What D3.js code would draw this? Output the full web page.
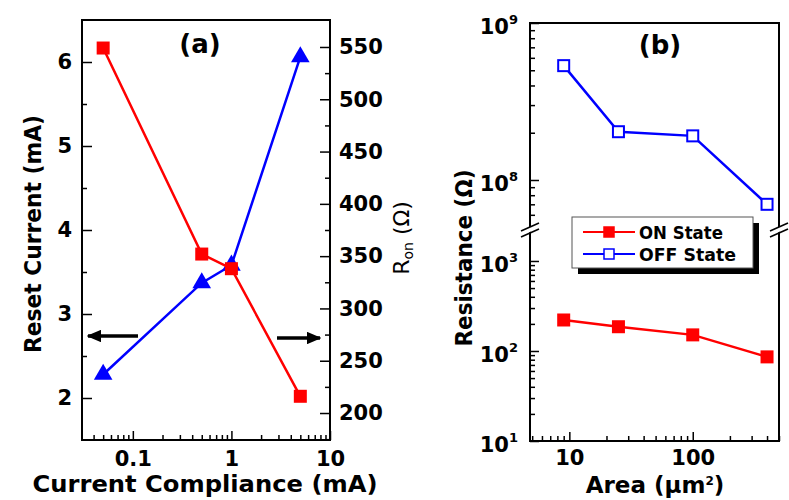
<!DOCTYPE html>
<html>
<head>
<meta charset="utf-8">
<script src="https://cdn.jsdelivr.net/npm/d3@7"></script>
<style>
  body { margin: 0; background: #fff; }
  text { font-family: "DejaVu Sans", "Liberation Sans", Arial, sans-serif; }
</style>
</head>
<body>
<div id="chart"></div>
<script>
// panel (a)
const compliance = [0.05, 0.5, 1, 5];
const resetCurrent = [2.28, 3.37, 3.58, 6.06];
const ronValues = [549, 352, 338, 216];
const leftTicks = [2, 3, 4, 5, 6];
const rightTicks = [200, 250, 300, 350, 400, 450, 500, 550];
const complianceTicks = [0.1, 1, 10];

// panel (b)
const areas = [9, 25, 100, 400];
const onState = [221, 186, 151, 86];
const offState = [5.35e8, 2.03e8, 1.91e8, 7.0e7];
const areaTicks = [10, 100];
const hiTicks = [1e8, 1e9];
const loTicks = [1e1, 1e2, 1e3];

const width = 789, height = 500;
const svg = d3.select('#chart').append('svg')
  .attr('width', width).attr('height', height);

const red = '#ff0000', blue = '#0000ff';

// minor ticks for a log scale between lo and hi
function logMinors(lo, hi) {
  const out = [];
  for (let e = Math.floor(Math.log10(lo)); e <= Math.ceil(Math.log10(hi)); e++) {
    for (let m = 2; m <= 9; m++) {
      const v = m * Math.pow(10, e);
      if (v >= lo && v <= hi) out.push(v);
    }
  }
  return out;
}

function styleAxis(g) {
  g.select('.domain').remove();
  g.selectAll('line').attr('stroke', '#000').attr('stroke-width', 1.5);
  g.selectAll('text').attr('font-size', 21).attr('font-weight', 'bold').attr('fill', '#000');
}

// ---------- panel (a) ----------
const a = {left: 82, right: 330, top: 20, bottom: 440};

const xA = d3.scaleLog().domain([0.0305, 10]).range([a.left, a.right]);
const yI = d3.scaleLinear().domain([1.5, 6.5]).range([a.bottom, a.top]);
const yR = d3.scaleLinear().domain([174.2, 575.8]).range([a.bottom, a.top]);

// bottom axis
svg.append('g').attr('transform', `translate(0,${a.bottom})`)
  .call(d3.axisBottom(xA).tickValues(complianceTicks).tickSize(-9).tickPadding(11)
    .tickFormat(d3.format('~g')))
  .call(styleAxis);
svg.append('g').attr('transform', `translate(0,${a.bottom})`)
  .call(d3.axisBottom(xA).tickValues(logMinors(0.0305, 10)).tickSize(-5).tickFormat(''))
  .call(styleAxis);

// left axis
svg.append('g').attr('transform', `translate(${a.left},0)`)
  .call(d3.axisLeft(yI).tickValues(leftTicks).tickSize(-10).tickPadding(10).tickFormat(d3.format('d')))
  .call(styleAxis);
svg.append('g').attr('transform', `translate(${a.left},0)`)
  .call(d3.axisLeft(yI).tickValues(leftTicks.map(d => d + 0.5).filter(d => d < 6.5))
    .tickSize(-5).tickFormat(''))
  .call(styleAxis);

// right axis
svg.append('g').attr('transform', `translate(${a.right},0)`)
  .call(d3.axisRight(yR).tickValues(rightTicks).tickSize(-10).tickPadding(9).tickFormat(d3.format('d')))
  .call(styleAxis);
svg.append('g').attr('transform', `translate(${a.right},0)`)
  .call(d3.axisRight(yR).tickValues(rightTicks.map(d => d + 25).concat([175]).filter(d => d < 575))
    .tickSize(-5).tickFormat(''))
  .call(styleAxis);

svg.append('rect')
  .attr('x', a.left).attr('y', a.top)
  .attr('width', a.right - a.left).attr('height', a.bottom - a.top)
  .attr('fill', 'none').attr('stroke', '#000').attr('stroke-width', 2);

const lineI = d3.line().x((d, i) => xA(compliance[i])).y(d => yI(d));
const lineR = d3.line().x((d, i) => xA(compliance[i])).y(d => yR(d));

svg.append('path').datum(resetCurrent).attr('d', lineI)
  .attr('fill', 'none').attr('stroke', blue).attr('stroke-width', 2.5);
svg.append('g').selectAll('path').data(resetCurrent).join('path')
  .attr('transform', (d, i) => `translate(${xA(compliance[i])},${yI(d)})`)
  .attr('d', d3.symbol(d3.symbolTriangle, 150))
  .attr('fill', blue);

svg.append('path').datum(ronValues).attr('d', lineR)
  .attr('fill', 'none').attr('stroke', red).attr('stroke-width', 2.5);
svg.append('g').selectAll('rect').data(ronValues).join('rect')
  .attr('x', (d, i) => xA(compliance[i]) - 6.5).attr('y', d => yR(d) - 6.5)
  .attr('width', 13).attr('height', 13)
  .attr('fill', red);

// arrows
const defs = svg.append('defs');
defs.append('marker').attr('id', 'arrowhead')
  .attr('viewBox', '0 0 10 10').attr('refX', 9).attr('refY', 5)
  .attr('markerWidth', 4.2).attr('markerHeight', 3.6).attr('orient', 'auto')
  .attr('preserveAspectRatio', 'none')
  .append('path').attr('d', 'M0,0L10,5L0,10Z').attr('fill', '#000');

svg.append('line').attr('x1', 138).attr('y1', 336).attr('x2', 88).attr('y2', 336)
  .attr('stroke', '#000').attr('stroke-width', 3.5).attr('marker-end', 'url(#arrowhead)');
svg.append('line').attr('x1', 277).attr('y1', 338).attr('x2', 320).attr('y2', 338)
  .attr('stroke', '#000').attr('stroke-width', 3.5).attr('marker-end', 'url(#arrowhead)');

svg.append('text').attr('x', 200).attr('y', 53).attr('text-anchor', 'middle')
  .attr('font-size', 26).attr('font-weight', 'bold').text('(a)');

svg.append('text').attr('transform', 'translate(41,234) rotate(-90)')
  .attr('text-anchor', 'middle').attr('font-size', 23).attr('font-weight', 'bold')
  .attr('textLength', 238).attr('lengthAdjust', 'spacingAndGlyphs')
  .text('Reset Current (mA)');

const ronLabel = svg.append('text').attr('transform', 'translate(409,238) rotate(-90)')
  .attr('text-anchor', 'middle').attr('font-size', 22);
ronLabel.append('tspan').text('R');
ronLabel.append('tspan').attr('font-size', 14).attr('dy', 4).text('on');
ronLabel.append('tspan').attr('dy', -4).text(' (\u03A9)');

svg.append('text').attr('x', 205).attr('y', 492).attr('text-anchor', 'middle')
  .attr('font-size', 23).attr('font-weight', 'bold')
  .attr('textLength', 345).attr('lengthAdjust', 'spacingAndGlyphs')
  .text('Current Compliance (mA)');

// ---------- panel (b) ----------
const b = {left: 530, right: 779, top: 23, bottom: 441, hiBottom: 222, loTop: 238, brk: 230};

const xB = d3.scaleLog().domain([4.8, 500]).range([b.left, b.right]);
const yHi = d3.scaleLog().domain([5.4e7, 1e9]).range([b.hiBottom, b.top]);
const yLo = d3.scaleLog().domain([10, 1800]).range([b.bottom, b.loTop]);

svg.append('g').attr('transform', `translate(0,${b.bottom})`)
  .call(d3.axisBottom(xB).tickValues(areaTicks).tickSize(-9).tickPadding(9).tickFormat(d3.format('d')))
  .call(styleAxis);
svg.append('g').attr('transform', `translate(0,${b.bottom})`)
  .call(d3.axisBottom(xB).tickValues(logMinors(4.8, 500)).tickSize(-5).tickFormat(''))
  .call(styleAxis);

function powLabel(g) {
  g.selectAll('text').each(function (d) {
    const t = d3.select(this).text('');
    t.append('tspan').text('10');
    t.append('tspan').attr('font-size', 13).attr('dy', -10).text(Math.round(Math.log10(d)));
  });
}

[[yHi, hiTicks, [5.4e7, 1e9]], [yLo, loTicks, [10, 1800]]].forEach(([sc, ticks, dom]) => {
  svg.append('g').attr('transform', `translate(${b.left},0)`)
    .call(d3.axisLeft(sc).tickValues(ticks).tickSize(-9).tickPadding(12))
    .call(styleAxis)
    .call(g => g.selectAll('text').attr('dy', '0.5em'))
    .call(powLabel);
  svg.append('g').attr('transform', `translate(${b.left},0)`)
    .call(d3.axisLeft(sc).tickValues(logMinors(dom[0], dom[1])).tickSize(-5).tickFormat(''))
    .call(styleAxis);
});

svg.append('path')
  .attr('d', `M${b.left},${b.top}H${b.right}V${b.bottom}H${b.left}Z`)
  .attr('fill', 'none').attr('stroke', '#000').attr('stroke-width', 2);

// axis break marks
[b.left, b.right].forEach(x => {
  svg.append('path')
    .attr('d', `M${x - 8},${b.brk + 1}L${x + 8},${b.brk - 7}L${x + 8},${b.brk - 2}L${x - 8},${b.brk + 6}Z`)
    .attr('fill', '#fff');
  [-3, 3].forEach(o => {
    svg.append('line')
      .attr('x1', x - 9).attr('y1', b.brk + o + 4).attr('x2', x + 9).attr('y2', b.brk + o - 4)
      .attr('stroke', '#000').attr('stroke-width', 1.5);
  });
});

const lineOff = d3.line().x((d, i) => xB(areas[i])).y(d => yHi(d));
const lineOn = d3.line().x((d, i) => xB(areas[i])).y(d => yLo(d));

svg.append('path').datum(offState).attr('d', lineOff)
  .attr('fill', 'none').attr('stroke', blue).attr('stroke-width', 2.5);
svg.append('g').selectAll('rect').data(offState).join('rect')
  .attr('x', (d, i) => xB(areas[i]) - 5.5).attr('y', d => yHi(d) - 5.5)
  .attr('width', 11).attr('height', 11)
  .attr('fill', '#fff').attr('stroke', blue).attr('stroke-width', 2);

svg.append('path').datum(onState).attr('d', lineOn)
  .attr('fill', 'none').attr('stroke', red).attr('stroke-width', 2.5);
svg.append('g').selectAll('rect').data(onState).join('rect')
  .attr('x', (d, i) => xB(areas[i]) - 6.5).attr('y', d => yLo(d) - 6.5)
  .attr('width', 13).attr('height', 13)
  .attr('fill', red);

// legend
const lg = svg.append('g').attr('transform', 'translate(572,217)');
lg.append('rect').attr('x', 6).attr('y', 6).attr('width', 181).attr('height', 51).attr('fill', '#000');
lg.append('rect').attr('width', 181).attr('height', 51).attr('fill', '#fff')
  .attr('stroke', '#555').attr('stroke-width', 1);
const legendItems = [
  {label: 'ON State', color: red, filled: true},
  {label: 'OFF State', color: blue, filled: false}
];
legendItems.forEach((it, i) => {
  const y = 15 + i * 22;
  lg.append('line').attr('x1', 11).attr('x2', 63).attr('y1', y).attr('y2', y)
    .attr('stroke', it.color).attr('stroke-width', 2);
  lg.append('rect').attr('x', 37 - 5).attr('y', y - 5).attr('width', 10).attr('height', 10)
    .attr('fill', it.filled ? it.color : '#fff').attr('stroke', it.color).attr('stroke-width', 1.5);
  lg.append('text').attr('x', 67).attr('y', y + 7).attr('font-size', 18).attr('font-weight', 'bold')
    .attr('textLength', i === 0 ? 84 : 97).attr('lengthAdjust', 'spacingAndGlyphs')
    .text(it.label);
});

svg.append('text').attr('x', 660).attr('y', 54).attr('text-anchor', 'middle')
  .attr('font-size', 26).attr('font-weight', 'bold').text('(b)');

svg.append('text').attr('transform', 'translate(472,258) rotate(-90)')
  .attr('text-anchor', 'middle').attr('font-size', 23).attr('font-weight', 'bold')
  .attr('textLength', 177).attr('lengthAdjust', 'spacingAndGlyphs')
  .text('Resistance (\u03A9)');

const areaLabel = svg.append('text').attr('x', 655).attr('y', 493).attr('text-anchor', 'middle')
  .attr('font-size', 23).attr('font-weight', 'bold');
areaLabel.append('tspan').text('Area (\u03BCm');
areaLabel.append('tspan').attr('font-size', 12).attr('dy', -8).text('2');
areaLabel.append('tspan').attr('dy', 8).text(')');
</script>
</body>
</html>
